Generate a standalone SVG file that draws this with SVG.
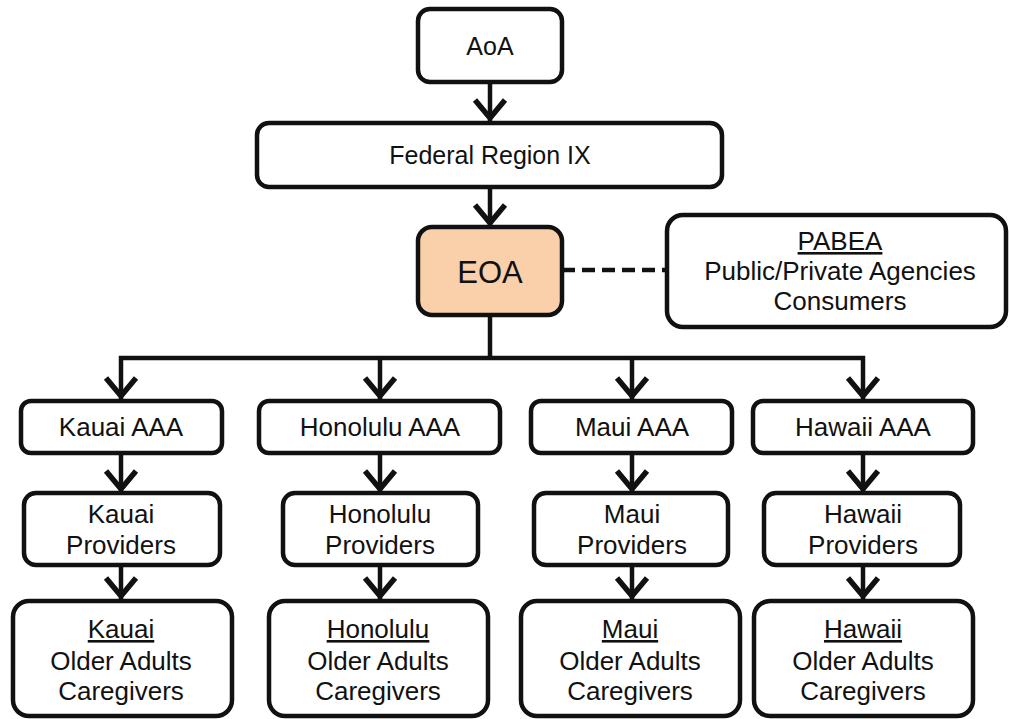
<svg xmlns="http://www.w3.org/2000/svg" width="1009" height="719" viewBox="0 0 1009 719">
<defs>
<style>
.box{fill:#ffffff;stroke:#111111;stroke-width:4.5}
.eoa{fill:#f9d0aa}
.t{font-family:"Liberation Sans",Arial,sans-serif;font-size:26px;fill:#111111;text-anchor:middle}
.t24{font-size:24px}
.t25{font-size:25px}
.t31{font-size:31px}
.u{text-decoration:underline}
.c{fill:none;stroke:#111111;stroke-width:4.5}
.d{stroke-dasharray:13 7}
</style>
<marker id="arr" markerUnits="userSpaceOnUse" viewBox="-30 -20 34 40" refX="0" refY="0" markerWidth="34" markerHeight="40" orient="auto">
<path d="M-21,-15 L-3,0 L-21,15" fill="none" stroke="#111111" stroke-width="5.5"/>
</marker>
</defs>
<rect width="1009" height="719" fill="#ffffff"/>
<g id="connectors">
<line class="c" x1="490" y1="82" x2="490" y2="121" marker-end="url(#arr)"/>
<line class="c" x1="490" y1="187" x2="490" y2="226" marker-end="url(#arr)"/>
<line class="c" x1="490" y1="315" x2="490" y2="358"/>
<line class="c" x1="119" y1="358" x2="865" y2="358"/>
<line class="c" x1="121" y1="356" x2="121" y2="399" marker-end="url(#arr)"/>
<line class="c" x1="380" y1="358" x2="380" y2="399" marker-end="url(#arr)"/>
<line class="c" x1="632" y1="358" x2="632" y2="399" marker-end="url(#arr)"/>
<line class="c" x1="863" y1="356" x2="863" y2="399" marker-end="url(#arr)"/>
<line class="c d" x1="562" y1="270" x2="667" y2="270"/>
<line class="c" x1="121" y1="453" x2="121" y2="492" marker-end="url(#arr)"/>
<line class="c" x1="380" y1="453" x2="380" y2="492" marker-end="url(#arr)"/>
<line class="c" x1="632" y1="453" x2="632" y2="492" marker-end="url(#arr)"/>
<line class="c" x1="863" y1="453" x2="863" y2="492" marker-end="url(#arr)"/>
<line class="c" x1="121" y1="565" x2="121" y2="599" marker-end="url(#arr)"/>
<line class="c" x1="380" y1="565" x2="380" y2="599" marker-end="url(#arr)"/>
<line class="c" x1="632" y1="565" x2="632" y2="599" marker-end="url(#arr)"/>
<line class="c" x1="863" y1="565" x2="863" y2="599" marker-end="url(#arr)"/>
</g>
<g id="aoa">
<rect class="box" x="418" y="9" width="144" height="73" rx="12"/>
<text class="t t25" x="490" y="55">AoA</text>
</g>
<g id="federal">
<rect class="box" x="257" y="123" width="465" height="64" rx="12"/>
<text class="t t25" x="490" y="164">Federal Region IX</text>
</g>
<g id="eoa">
<rect class="box eoa" x="418" y="227" width="144" height="88" rx="14"/>
<text class="t t31" x="490" y="283">EOA</text>
</g>
<g id="pabea">
<rect class="box" x="667" y="215" width="339" height="112" rx="16"/>
<text class="t" x="840" y="250"><tspan class="u">PABEA</tspan></text>
<text class="t" x="840" y="280">Public/Private Agencies</text>
<text class="t" x="840" y="310">Consumers</text>
</g>
<g id="kauai-aaa">
<rect class="box" x="21" y="401" width="201" height="52" rx="10"/>
<text class="t" x="121" y="436">Kauai AAA</text>
</g>
<g id="honolulu-aaa">
<rect class="box" x="259" y="401" width="241" height="52" rx="10"/>
<text class="t" x="380" y="436">Honolulu AAA</text>
</g>
<g id="maui-aaa">
<rect class="box" x="531" y="401" width="201" height="52" rx="10"/>
<text class="t" x="632" y="436">Maui AAA</text>
</g>
<g id="hawaii-aaa">
<rect class="box" x="753" y="401" width="220" height="52" rx="10"/>
<text class="t" x="863" y="436">Hawaii AAA</text>
</g>
<g id="kauai-providers">
<rect class="box" x="24" y="493" width="196" height="72" rx="12"/>
<text class="t" x="121" y="523">Kauai</text>
<text class="t" x="121" y="554">Providers</text>
</g>
<g id="honolulu-providers">
<rect class="box" x="283" y="493" width="195" height="72" rx="12"/>
<text class="t" x="380" y="523">Honolulu</text>
<text class="t" x="380" y="554">Providers</text>
</g>
<g id="maui-providers">
<rect class="box" x="534" y="493" width="194" height="72" rx="12"/>
<text class="t" x="632" y="523">Maui</text>
<text class="t" x="632" y="554">Providers</text>
</g>
<g id="hawaii-providers">
<rect class="box" x="764" y="493" width="196" height="72" rx="12"/>
<text class="t" x="863" y="523">Hawaii</text>
<text class="t" x="863" y="554">Providers</text>
</g>
<g id="kauai-older">
<rect class="box" x="13" y="601" width="219" height="115" rx="16"/>
<text class="t" x="121" y="638"><tspan class="u">Kauai</tspan></text>
<text class="t" x="121" y="670">Older Adults</text>
<text class="t" x="121" y="700">Caregivers</text>
</g>
<g id="honolulu-older">
<rect class="box" x="269" y="601" width="219" height="115" rx="16"/>
<text class="t" x="378" y="638"><tspan class="u">Honolulu</tspan></text>
<text class="t" x="378" y="670">Older Adults</text>
<text class="t" x="378" y="700">Caregivers</text>
</g>
<g id="maui-older">
<rect class="box" x="521" y="601" width="219" height="115" rx="16"/>
<text class="t" x="630" y="638"><tspan class="u">Maui</tspan></text>
<text class="t" x="630" y="670">Older Adults</text>
<text class="t" x="630" y="700">Caregivers</text>
</g>
<g id="hawaii-older">
<rect class="box" x="754" y="601" width="219" height="115" rx="16"/>
<text class="t" x="863" y="638"><tspan class="u">Hawaii</tspan></text>
<text class="t" x="863" y="670">Older Adults</text>
<text class="t" x="863" y="700">Caregivers</text>
</g>
</svg>
